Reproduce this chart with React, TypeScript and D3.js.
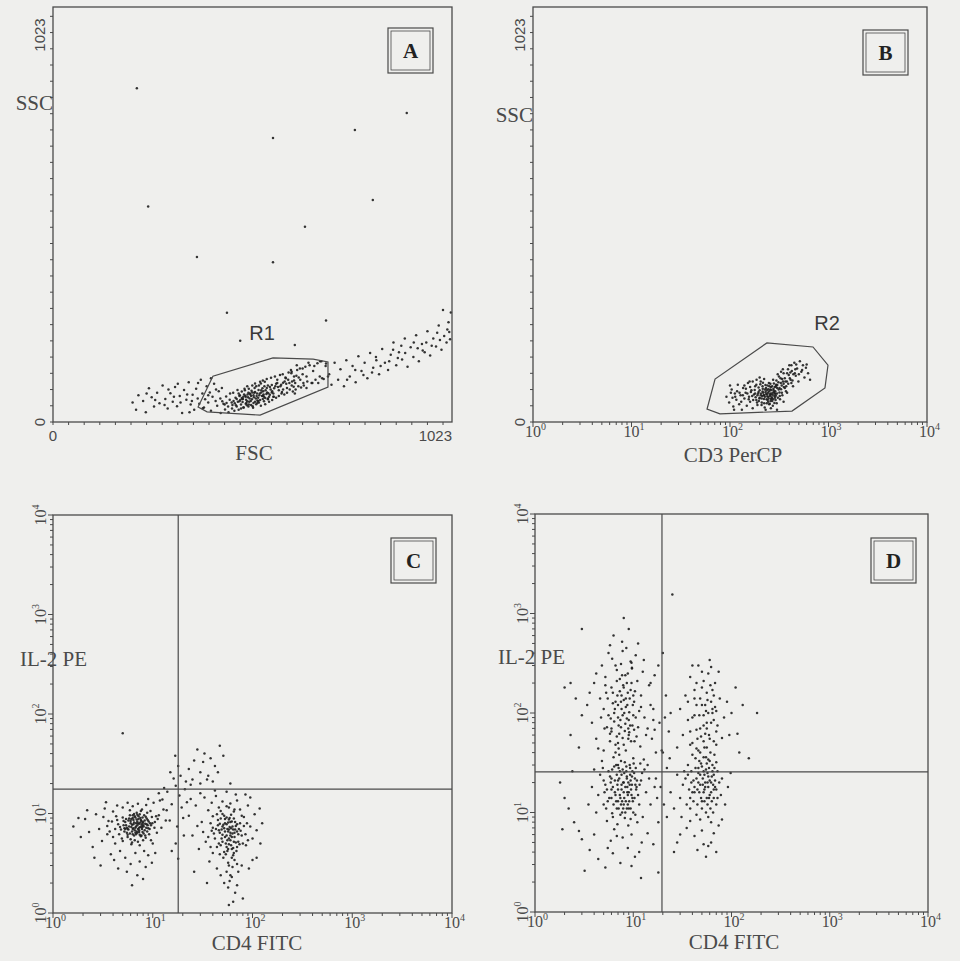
import React from 'react';
import * as d3 from 'd3';

const W = 960;
const H = 961;

// ---- panel A : FSC / SSC, linear channels 0..1023 ----
const aCore: [number, number][] = [
  [430,22],[434,51],[441,31],[444,63],[450,24],[454,70],[459,33],[462,72],[465,28],[469,41],[473,79],[476,30],[479,66],[482,33],[484,75],[489,36],[491,82],[494,45],[498,88],[501,38],[503,50],[508,42],[511,90],[513,35],[518,95],[521,44],[524,53],[528,48],[531,99],[533,40],[538,102],[541,51],[544,44],[548,106],[551,56],[554,50],[559,109],[562,54],[565,62],[569,112],[572,60],[575,104],[579,64],[582,116],[586,70],[589,118],[593,68],[596,110],[600,72],[604,122],[607,80],[612,124],[615,75],[618,112],[622,80],[626,128],[629,88],[633,132],[636,85],[640,118],[643,90],[647,136],[652,100],[658,140],[663,96],[667,126],[673,104],[678,145],[684,112],[688,150],[694,106],[699,138],
  [466,46],[471,38],[478,51],[484,59],[488,36],[494,62],[498,51],[502,43],[506,68],[510,56],[514,47],[518,74],[522,64],[526,52],[530,70],[534,78],[538,65],[542,88],[547,69],[551,58],[556,86],[561,73],[566,62],[570,88],[575,96],[579,78],[585,92],[590,80],[598,94],[603,104],[612,90],[618,102],[624,114],[634,104],[642,96],[650,112],
  [463,52],[497,41],[521,88],[478,64],[544,59],[509,77],[486,49],[533,95],[556,67],[471,57],[524,47],[502,82],[539,76],[490,68],[515,61],[548,84],[482,43],[527,79],[561,91],[495,55],[512,39],[536,64],[458,48],[505,70],[549,73],[492,78],[520,58],[567,83],[476,70],[531,54],[543,99],[500,61],[517,84],[554,62],[485,57],[511,73],[528,90],[562,76],[468,60],[496,47],[540,68],[507,52],[583,88],[523,70],[545,78],[488,62],[514,66],[537,83],[572,94],[501,72],[480,54],[526,60],[558,80],[493,65],[518,50],[534,73],[551,90],[504,58],[474,50],[590,97],[565,70],[541,62],[508,64],[529,66],[552,71],[487,57],[499,68],[516,72],[538,57],[577,86],[460,42],[449,38],[445,47],[453,55],[440,43],[600,84],[606,96],[613,100],[597,108],[587,74],[621,96],[630,110],[617,87],[611,120],[594,100],
  [610,128],[625,140],[640,132],[655,146],[670,138],[685,150],[700,144],[690,108],[665,96],[705,112],[620,70],[650,84],[680,96],
];
const aLeftWing: [number, number][] = [
  [204,48],[213,30],[219,66],[231,52],[238,24],[246,83],[253,61],[259,38],[267,72],[273,46],[281,90],[288,57],[294,33],[301,71],[307,50],[313,86],[318,39],[325,64],[331,22],[336,79],[342,55],[348,98],[353,43],[358,67],[362,30],[367,82],[371,58],[375,45],[379,104],[383,70],[387,36],[390,56],[394,88],[398,48],[402,73],[405,28],[409,62],[413,94],[417,52],[421,40],[425,76],[429,58],[433,84],[437,45],[344,68],[310,62],[286,42],[262,54],[372,96],[398,66],[356,52],[327,48],[384,34],[405,108],[418,80],[240,70],[296,80],[350,24],[320,94],
];
const aRightTail: [number, number][] = [
  [708,118],[714,92],[722,146],[731,104],[737,130],[746,88],[752,152],[761,112],[768,138],[776,98],[783,162],[791,126],[799,146],[806,108],[813,170],[821,134],[829,152],[836,118],[844,180],[851,146],[859,128],[866,166],[873,196],[880,140],[887,172],[895,154],[902,206],[909,136],[917,184],[924,160],[931,214],[938,150],[946,192],[953,172],[960,224],[967,164],[975,206],[982,186],[989,238],[996,178],[1003,212],[1009,196],[1014,246],[1018,204],[1020,270],[1011,228],[992,202],[971,188],[948,176],[925,196],[903,170],[884,158],[862,150],[840,138],[818,122],[796,116],[775,128],[754,104],[893,188],[957,196],[1016,222],[985,220],[935,182],[872,178],[828,160],
];
const aOutliers: [number, number][] = [
  [244,531],[215,823],[907,762],[774,720],[646,481],[369,407],[564,394],[1000,276],[446,269],[820,547],[564,700],[480,200],[700,250],[620,190],
];
const gateR1: [number, number][] = [[372,37],[410,113],[564,158],[667,155],[705,148],[705,86],[531,17],[395,25]];

// ---- panel B : CD3 PerCP (log) / SSC ----
const bCells: [number, number][] = [
  [92,62],[98,48],[104,80],[108,38],[112,70],[116,55],[120,92],[124,44],[128,66],[132,30],[136,84],[140,58],[144,72],[148,40],[152,96],[156,62],[160,50],[165,78],[170,34],[175,68],[180,88],[185,54],[190,42],[195,74],[200,60],[205,100],[210,48],[215,82],[220,66],[225,36],[230,74],[235,56],[240,90],[245,62],[250,44],[256,80],[262,68],[268,52],[274,104],[280,74],[286,60],[292,88],[298,46],[305,118],[312,80],[320,64],[328,96],[336,72],[344,130],[352,86],[360,108],[370,76],[380,120],[390,94],[400,140],[412,104],[424,126],[436,88],[450,146],[465,114],[480,132],[495,100],[512,150],[530,124],[550,140],[570,110],[590,134],[620,120],[650,104],
  [190,66],[200,78],[210,58],[218,72],[226,62],[232,84],[238,68],[244,50],[250,76],[255,64],[260,86],[265,58],[270,72],[276,82],[282,64],[288,76],[294,92],[300,70],[310,98],[318,84],[326,108],[335,90],[345,100],[180,70],[172,54],[196,52],[205,66],[214,88],[222,46],[236,78],[248,96],[258,70],[272,40],[290,54],[306,60],[340,66],[360,84],[378,100],[395,116],[420,96],[440,118],[460,130],[380,72],[420,140],[160,86],[150,70],[140,90],[130,50],[118,76],[106,60],[100,90],[110,30],[170,100],[200,110],[230,30],[260,34],[300,30],[350,50],
  [182,61],[214,75],[247,58],[268,88],[203,93],[236,46],[289,69],[226,80],[258,52],[195,85],[279,95],[212,64],[243,72],[266,61],[301,84],[188,48],[229,91],[254,68],[274,56],[318,73],[207,70],[239,63],[262,79],[296,102],[178,79],[221,57],[251,88],[284,71],[330,81],[199,58],[233,69],[257,94],[292,65],[314,112],[168,64],[216,97],[244,81],[271,67],[350,94],[185,92],[222,66],[261,57],[286,86],[338,106],[193,70],[241,54],[277,78],[302,91],[365,100],[155,56],[163,74],[209,42],[253,45],[282,47],[322,56],[372,88],[405,108],[431,102],[455,120],[388,130],[410,122],[350,120],[330,124],[470,142],[500,118],[540,128],[600,142],[125,72],[135,66],[145,82],[113,62],[102,72],[158,100],[186,104],[222,106],
];
const gateR2: [number, number][] = [[58.5,32],[70.5,106],[237,195],[696,185],[988,140],[921,84],[426,27],[79,20]];

// ---- panel C : CD4 FITC / IL-2 PE (log / log) ----
const cNeg: [number, number][] = [
  [5.2,7.1],[6.0,8.4],[6.8,6.2],[7.5,9.0],[8.1,7.4],[5.6,5.8],[6.4,7.8],[7.2,8.8],[8.8,6.6],[9.4,8.0],[4.8,6.9],[5.9,9.6],[6.6,5.4],[7.8,7.0],[8.5,9.3],[5.3,8.2],[6.2,6.6],[7.0,7.6],[7.6,5.9],[9.0,7.1],[4.5,7.8],[5.5,6.4],[6.3,9.0],[7.3,6.8],[8.3,8.5],[9.8,9.2],[4.9,5.6],[6.9,10.2],[8.0,5.4],[5.8,7.4],[6.5,8.1],[7.1,5.2],[7.9,8.0],[8.7,7.8],[5.0,9.1],[6.1,4.9],[7.4,9.8],[9.2,6.2],[5.7,6.9],[6.7,7.2],[7.7,8.4],[8.4,6.0],[6.0,5.5],[7.0,6.4],[8.9,8.6],[5.4,8.8],[6.3,7.0],[7.5,7.3],[8.2,9.6],[6.6,9.4],[9.6,7.6],[4.6,6.2],[5.1,7.6],[7.9,6.5],[6.8,8.0],[5.6,7.0],[7.3,7.9],
  [6.1,7.3],[7.4,6.1],[5.4,7.6],[8.0,8.2],[6.7,9.1],[7.1,7.0],[5.9,6.3],[8.6,7.2],[6.4,8.6],[7.7,7.7],[5.2,6.6],[6.9,6.6],[8.3,6.8],[7.2,9.4],[6.0,8.0],[7.6,8.6],[5.7,8.5],[8.9,7.6],[6.5,6.0],[7.0,8.3],[6.2,7.7],[7.9,9.1],[5.5,7.2],[8.4,7.9],[6.8,7.4],[7.3,6.5],[6.6,6.8],[5.1,8.4],[9.1,8.3],[6.3,6.2],[7.5,8.1],[5.8,8.9],[8.1,6.3],[7.0,9.7],[6.4,7.1],[7.8,7.3],[4.7,7.3],[6.9,8.7],[9.3,7.0],[5.3,7.0],[6.1,8.8],[7.3,7.2],[8.7,8.9],[6.7,6.4],[5.6,6.1],[8.0,7.6],[7.1,8.0],[6.3,9.6],[4.4,8.6],[9.9,8.0],[5.0,5.3],[7.7,6.0],[6.5,9.9],[8.5,5.7],[4.2,7.0],[3.9,8.3],[3.7,6.6],[10.4,7.2],[10.8,9.4],[4.3,9.4],[5.9,10.8],[7.6,10.6],[8.8,10.2],[6.2,5.1],[7.4,4.8],[4.0,5.8],[3.5,7.5],[9.6,5.4],[11.2,8.8],[3.2,9.2],
  [1.6,7.4],[1.9,5.8],[2.1,8.8],[2.3,6.5],[2.5,4.6],[2.7,9.8],[2.9,7.0],[3.1,5.3],[3.3,11.2],[3.5,6.2],[3.6,8.4],[3.8,3.9],[4.0,10.5],[4.2,5.0],[4.4,12.0],[4.1,3.4],[4.7,4.2],[5.0,11.5],[5.3,3.6],[5.6,12.8],[6.0,3.1],[6.3,11.8],[6.7,4.0],[7.1,12.5],[7.4,3.3],[7.8,11.0],[8.2,4.2],[8.6,12.2],[9.0,3.8],[9.5,10.6],[10.0,5.0],[10.5,8.2],[11.0,6.4],[11.5,9.6],[12.2,7.2],[12.8,11.0],[13.5,8.5],[10.2,12.8],[9.0,14.0],[11.8,13.5],[3.0,3.0],[4.5,2.8],[5.5,2.6],[7.0,2.4],[8.5,2.9],[3.4,13.0],[2.2,10.8],[1.8,9.0],[2.6,3.6],[9.8,3.2],[8.0,2.2],[6.2,1.9],[10.6,4.0],[5.0,64],
];
const cBridge: [number, number][] = [
  [12.5,13.8],[14.0,16.5],[15.5,12.4],[17.0,19.0],[18.5,15.2],[16.2,22.5],[13.8,10.8],[19.5,11.5],[21.0,17.5],[14.8,8.5],[17.6,7.4],[20.2,9.0],[15.0,26.0],[18.0,30.0],[16.8,38.0],[13.0,18.0],[11.5,16.0],[19.0,24.0],[22.0,13.0],[20.5,6.0],[17.0,5.0],[15.5,4.2],[18.0,3.5],[21.5,21.0],[23.0,28.0],[26.0,34.0],[24.0,19.5],
  [28,44],[33,40],[38,36],[42,30],[47,48],[30,26],[36,24],[51,38],[45,26],[25,22],[30,20],[35,22],[40,21],[32,33],[60,20],
];
const cPos: [number, number][] = [
  [40,7.2],[45,8.6],[50,6.1],[55,7.8],[60,5.4],[65,8.9],[70,6.6],[48,4.8],[52,9.5],[58,6.9],[62,4.4],[68,7.5],[42,5.6],[46,6.8],[54,5.0],[57,8.1],[63,6.3],[72,5.2],[75,8.0],[38,8.0],[44,9.8],[50,7.4],[56,4.2],[61,7.1],[66,5.8],[49,5.6],[53,6.6],[59,9.0],[64,3.8],[70,4.6],[47,7.9],[51,3.6],[55,6.0],[58,4.9],[62,8.3],[67,6.9],[73,7.0],[41,6.3],[78,6.0],[53,8.8],[60,6.4],[57,3.2],[65,4.0],
  [52,7.1],[58,5.6],[47,6.4],[63,7.4],[55,4.6],[60,8.2],[50,5.2],[66,6.4],[45,7.6],[57,6.6],[62,5.8],[53,8.0],[68,5.1],[48,8.9],[56,5.4],[61,4.8],[51,7.7],[64,6.9],[58,8.7],[54,3.9],[70,7.8],[46,5.0],[59,7.3],[65,5.2],[49,6.9],[55,9.1],[62,3.6],[67,8.2],[43,7.0],[57,4.4],[52,4.1],[60,6.0],[72,6.2],[50,9.9],[64,4.5],[56,7.0],[69,4.2],[47,3.9],[61,9.7],[53,5.8],[58,3.0],[66,3.4],[63,2.9],[55,2.6],[60,2.4],[70,3.1],[59,2.1],[74,4.9],[76,6.7],[80,5.0],[82,7.5],[39,6.7],[36,5.8],[38,4.6],[40,9.4],[44,4.6],[85,6.2],[90,5.4],[66,11.0],[58,11.5],[48,10.6],[78,9.5],
  [23,9.5],[25,6.0],[27,12.0],[29,4.4],[31,8.2],[33,14.5],[34,5.2],[36,10.8],[37,3.3],[39,12.8],[40,4.0],[43,15.0],[44,2.8],[46,11.5],[48,2.4],[50,13.2],[52,2.0],[55,11.8],[57,1.8],[60,12.6],[62,2.3],[65,10.5],[67,1.6],[70,13.5],[72,2.6],[75,11.0],[78,3.0],[82,9.2],[86,4.8],[90,12.0],[95,7.4],[100,5.6],[105,9.8],[110,6.8],[118,11.2],[125,8.0],[85,15.5],[92,2.8],[80,1.4],[64,1.3],[58,1.2],[70,1.9],[100,3.4],[30,16.0],[26,2.6],[24,14.0],[42,17.0],[55,16.5],[68,15.5],[95,14.5],[110,3.6],[120,5.0],[35,2.0],[28,7.5],[32,6.5],[88,8.0],
];

// ---- panel D : CD4 FITC / IL-2 PE (log / log), stimulated ----
const dNeg: [number, number][] = [
  [5.0,12],[6.2,18],[7.4,9.5],[8.6,22],[9.8,14],[5.6,26],[6.8,11],[8.0,16],[9.2,30],[10.5,19],[4.4,15],[5.4,8.2],[6.5,21],[7.7,13],[8.9,7.4],[10.2,25],[11.5,12],[4.8,33],[6.0,14],[7.1,28],[8.3,10],[9.5,17],[12.0,21],[5.2,19],[6.4,6.8],[7.6,24],[8.8,12],[10.0,35],[11.2,15],[4.2,10],[5.8,23],[7.0,17],[8.2,32],[9.4,8.6],[10.8,18],[13.0,27],[5.5,13],[6.7,30],[7.9,20],[9.0,11],[10.4,22],[12.5,9.0],[4.6,24],[6.1,9.8],[7.3,15],[8.5,26],[9.7,19],[11.8,31],[5.1,16],[6.3,36],[7.5,12],[8.7,18],[9.9,13],[13.5,16],[3.8,18],[6.9,7.6],[8.1,14],[9.3,24],[14.5,22],[3.5,12],[4.0,27],[11.0,8.0],[12.8,34],[7.2,38],[8.4,42],[6.6,40],[9.6,6.0],[7.8,5.6],[5.9,5.2],[10.6,28],[8.0,20],[7.0,13],[9.0,16],[6.0,17],[8.6,11],[7.6,19],[9.4,21],[6.8,24],[10.0,10],
  [6.6,15],[7.9,11],[8.7,16],[5.9,20],[9.6,15],[7.2,22],[8.4,13],[6.3,12],[10.9,21],[7.6,17],[9.2,19],[5.4,17],[8.1,25],[6.9,19],[9.8,26],[7.4,14],[8.9,20],[6.1,27],[10.3,14],[7.7,10],[8.5,29],[5.7,14],[9.4,11],[7.0,21],[6.5,16],[8.3,18],[9.1,13],[7.3,26],[6.0,22],[10.7,17],[8.0,12],[7.5,33],[5.0,21],[9.7,23],[6.7,13],[8.8,15],[11.6,19],[7.1,11],[8.6,23],[6.4,29],[9.3,28],[5.3,11],[10.1,31],[7.8,27],[4.9,28],[12.3,25],[6.2,9.0],[8.2,8.8],[10.5,9.5],[7.0,30],
  [3.0,5.4],[3.6,4.2],[4.4,3.4],[5.2,2.8],[6.2,3.9],[7.4,3.1],[8.8,4.4],[10.4,3.6],[12.2,5.0],[14.0,6.2],[2.5,8.0],[2.2,11],[2.8,6.5],[16,4.8],[3.2,2.6],[9.6,2.9],[4.0,6.0],[11.5,4.0],[5.5,4.4],[6.8,5.8],[2.0,14],[1.8,20],[2.4,26],[15,12],[16.5,18],[1.9,6.8],[18,8],
];
const dNegHigh: [number, number][] = [
  [4.2,55],[5.4,72],[6.6,48],[7.8,95],[9.0,60],[10.2,130],[5.0,110],[6.2,160],[7.4,85],[8.6,200],[9.8,75],[11.5,105],[4.6,140],[5.8,52],[7.0,120],[8.2,66],[9.4,170],[10.8,58],[13,90],[3.8,80],[5.2,230],[6.4,100],[7.6,150],[8.8,250],[10,95],[12,150],[4.8,300],[6.0,180],[7.2,62],[8.4,115],[9.6,320],[11,210],[14,70],[3.4,120],[5.6,400],[6.8,270],[8.0,180],[9.2,140],[10.6,380],[12.5,260],[4.0,200],[6.1,350],[7.3,220],[8.5,450],[9.7,280],[15,120],[4.4,44],[5.9,88],[7.1,44],[8.3,78],[9.5,52],[11.8,46],[13.5,60],[16,85],[6.6,130],[7.8,56],[9.1,102],[5.3,160],[7.5,310],[8.9,70],[10.4,165],[3.6,160],[4.2,250],[6.3,600],[7.7,520],[8.0,900],[9.0,700],[5.8,480],[11.2,500],[12.8,340],[14.5,190],[16.5,240],[3.0,95],[2.6,140],[2.3,60],[2.8,45],[2.0,180],[17,40],[6.0,70],[7.0,90],[8.0,48],[9.0,85],[6.8,58],[10.2,68],[5.0,42],[7.5,130],[8.8,160],[7.8,420],[9.7,285],[2.3,200],
  [6.0,65],[7.6,110],[8.9,55],[5.6,95],[9.9,120],[7.1,75],[8.4,140],[6.4,82],[10.6,90],[7.9,190],[5.1,70],[9.3,75],[6.8,210],[8.1,100],[7.3,165],[11.2,72],[6.2,125],[9.6,200],[5.5,140],[8.7,120],[7.0,50],[10.0,150],[6.6,300],[8.3,240],[4.7,90],[12.0,115],[7.5,72],[9.1,64],[5.8,62],[8.6,88],[6.9,150],[10.3,52],[7.7,240],[5.2,190],[9.4,330],[6.5,110],[8.0,135],
];
const dBridge: [number, number][] = [
  [14,30],[15.5,55],[17,22],[18.5,80],[20,40],[21.5,150],[16,110],[19,18],[22,28],[23,65],[24,100],[17.5,14],[20.5,12],[15,200],[18,300],[22,9],[19.5,42],[16.5,68],[21,90],[23.5,35],
];
const dPos: [number, number][] = [
  [30,14],[34,22],[38,11],[42,18],[46,28],[50,13],[54,20],[58,34],[62,16],[66,24],[70,12],[36,30],[40,16],[44,9.5],[48,24],[52,36],[56,14],[60,21],[64,30],[68,18],[72,26],[32,19],[35,12],[39,26],[43,35],[47,16],[51,22],[55,10],[59,28],[63,13],[67,38],[75,20],[33,26],[37,17],[41,21],[45,12],[49,31],[53,17],[57,25],[61,40],[65,10],[78,15],[28,24],[31,9.0],[44,44],[56,45],[48,8.5],[62,8.0],[70,32],[80,22],[52,26],[46,20],[58,18],[40,38],[66,14],
  [44,22],[52,16],[58,23],[48,19],[62,20],[55,27],[41,13],[66,17],[50,29],[57,12],[46,25],[60,15],[54,18],[64,26],[49,14],[43,28],[68,21],[56,31],[39,20],[61,11],[51,19],[47,33],[59,14],[53,24],[65,19],[42,16],[70,17],[57,20],[45,17],[63,23],[38,14],[50,11],[55,36],[67,28],[48,40],[60,33],[72,14],[36,24],[53,13],[58,9.0],
  [35,7.0],[42,5.8],[50,6.6],[58,4.6],[66,6.2],[74,7.4],[45,4.2],[55,3.6],[30,6.0],[62,5.0],[80,8.5],[86,12],[92,18],[26,11],[24,16],[38,8.2],[52,4.8],[70,4.0],[28,5.0],
  [32,60],[36,85],[40,50],[44,120],[48,70],[52,95],[56,160],[60,55],[64,110],[68,200],[72,75],[76,140],[34,150],[38,230],[42,95],[46,300],[50,180],[54,62],[58,250],[62,130],[66,85],[70,105],[30,110],[44,68],[48,140],[52,210],[56,80],[60,340],[64,170],[84,90],[90,130],[95,60],[28,45],[38,48],[52,52],[70,48],[80,56],[42,170],[58,100],[46,42],[66,52],[36,130],[100,100],[74,260],[50,260],[40,300],[62,290],[54,120],
  [45,55],[56,70],[50,120],[62,80],[40,90],[66,150],[53,45],[59,60],[47,95],[70,65],[42,140],[61,190],[55,105],[49,58],[64,100],[38,65],[57,135],[68,115],[44,200],[52,75],
  [25,1550],[182,100],[115,62],[130,120],[20,400],[150,35],[3.0,700],[26,4.0],[12,2.2],[18,2.5],[120,40],[110,180],[98,25],
];

// quadrant markers (CD4 FITC, IL-2 PE)
const quadX = [18, 19.6];
const quadY = [17.6, 25.6];

const decades = [1, 10, 100, 1000, 10000];
const linTickStep = 40;

const ink = '#4a4a4a';
const dotInk = '#1e1e1e';
const serif = '"Liberation Serif", "Times New Roman", serif';
const sans = '"Liberation Sans", Arial, sans-serif';

type Box = { x0: number; x1: number; y0: number; y1: number };
type Title = { text: string; x: number; y: number; anchor?: string };

function Panel(props: {
  box: Box;
  xLog: boolean;
  yLog: boolean;
  sets: [number, number][][];
  letter: string;
  letterPos: [number, number];
  xTitle: Title;
  yTitle: Title;
  tickLabelDy: number;
  gate?: [number, number][];
  gateLabel?: Title;
  quad?: [number, number];
}) {
  const { box, xLog, yLog, tickLabelDy } = props;
  const x: any = xLog
    ? d3.scaleLog().domain([1, 1e4]).range([box.x0, box.x1])
    : d3.scaleLinear().domain([0, 1023]).range([box.x0, box.x1]);
  const y: any = yLog
    ? d3.scaleLog().domain([1, 1e4]).range([box.y1, box.y0])
    : d3.scaleLinear().domain([0, 1023]).range([box.y1, box.y0]);

  const xTicks: number[] = xLog ? x.ticks() : d3.range(0, 1024, linTickStep);
  const yTicks: number[] = yLog ? y.ticks() : d3.range(0, 1024, linTickStep);
  const isDecade = (v: number) => decades.includes(v);

  const gatePath = props.gate
    ? d3.line<[number, number]>().x((d) => x(d[0])).y((d) => y(d[1])).curve(d3.curveLinearClosed)(props.gate)
    : null;

  const [lx, ly] = props.letterPos;

  return (
    <g>
      {/* events */}
      {props.sets.map((set, si) => (
        <g key={si} fill={dotInk}>
          {set.map((d, i) => (
            <circle key={i} cx={x(d[0])} cy={y(d[1])} r={1.25} opacity={0.9} />
          ))}
        </g>
      ))}

      {/* frame */}
      <rect x={box.x0} y={box.y0} width={box.x1 - box.x0} height={box.y1 - box.y0} fill="none" stroke={ink} strokeWidth={1.3} />

      {/* ticks */}
      {xTicks.map((v, i) => (
        <line key={'xt' + i} x1={x(v)} x2={x(v)} y1={box.y1} y2={box.y1 + (xLog && isDecade(v) ? 5 : 3)} stroke={ink} strokeWidth={1} />
      ))}
      {yTicks.map((v, i) => (
        <line key={'yt' + i} x1={box.x0} x2={box.x0 - (yLog && isDecade(v) ? 5 : 3)} y1={y(v)} y2={y(v)} stroke={ink} strokeWidth={1} />
      ))}

      {/* x tick labels */}
      {xLog
        ? decades.map((v, i) => (
            <text key={'xl' + i} x={x(v) - 8} y={box.y1 + tickLabelDy} fontFamily={serif} fontSize={16} fill={ink}>
              10<tspan fontSize={10} dy={-7}>{i}</tspan>
            </text>
          ))
        : [
            <text key="x0" x={x(0)} y={box.y1 + tickLabelDy} textAnchor="middle" fontFamily={sans} fontSize={15} fill={ink}>0</text>,
            <text key="x1" x={x(1023)} y={box.y1 + tickLabelDy} textAnchor="end" fontFamily={sans} fontSize={15} fill={ink}>1023</text>,
          ]}

      {/* y tick labels (rotated) */}
      {yLog
        ? decades.map((v, i) => (
            <text key={'yl' + i} transform={`translate(${box.x0 - 7},${y(v)}) rotate(-90)`} textAnchor="middle" fontFamily={serif} fontSize={16} fill={ink}>
              10<tspan fontSize={10} dy={-7}>{i}</tspan>
            </text>
          ))
        : [
            <text key="y0" transform={`translate(${box.x0 - 8},${y(0)}) rotate(-90)`} textAnchor="middle" fontFamily={sans} fontSize={15} fill={ink}>0</text>,
            <text key="y1" transform={`translate(${box.x0 - 8},${box.y0 + 28}) rotate(-90)`} textAnchor="middle" fontFamily={sans} fontSize={15} fill={ink}>1023</text>,
          ]}

      {/* quadrant lines */}
      {props.quad && (
        <g stroke={ink} strokeWidth={1.2}>
          <line x1={x(props.quad[0])} x2={x(props.quad[0])} y1={box.y0} y2={box.y1} />
          <line x1={box.x0} x2={box.x1} y1={y(props.quad[1])} y2={y(props.quad[1])} />
        </g>
      )}

      {/* gate */}
      {gatePath && <path d={gatePath} fill="none" stroke={ink} strokeWidth={1.2} />}
      {props.gateLabel && (
        <text x={props.gateLabel.x} y={props.gateLabel.y} textAnchor="middle" fontFamily={sans} fontSize={20} fill="#3a3a3a">
          {props.gateLabel.text}
        </text>
      )}

      {/* titles */}
      <text x={props.xTitle.x} y={props.xTitle.y} textAnchor="middle" fontFamily={serif} fontSize={21} fill={ink}>
        {props.xTitle.text}
      </text>
      <text x={props.yTitle.x} y={props.yTitle.y} textAnchor={props.yTitle.anchor || 'end'} fontFamily={serif} fontSize={21} fill={ink}>
        {props.yTitle.text}
      </text>

      {/* panel letter */}
      <rect x={lx} y={ly} width={45} height={45} fill="none" stroke={ink} strokeWidth={1.2} />
      <rect x={lx + 3} y={ly + 3} width={39} height={39} fill="none" stroke={ink} strokeWidth={0.8} />
      <text x={lx + 22.5} y={ly + 30} textAnchor="middle" fontFamily={serif} fontWeight="bold" fontSize={21} fill="#222">
        {props.letter}
      </text>
    </g>
  );
}

export default function App() {
  return (
    <svg width={W} height={H} style={{ position: 'absolute', left: 0, top: 0, background: '#efefed' }}>
      <Panel
        box={{ x0: 53, x1: 452, y0: 7, y1: 422 }}
        xLog={false}
        yLog={false}
        sets={[aCore, aLeftWing, aRightTail, aOutliers]}
        letter="A"
        letterPos={[388, 28]}
        xTitle={{ text: 'FSC', x: 254, y: 460 }}
        yTitle={{ text: 'SSC', x: 53, y: 110 }}
        tickLabelDy={19}
        gate={gateR1}
        gateLabel={{ text: 'R1', x: 262, y: 340 }}
      />
      <Panel
        box={{ x0: 533, x1: 927, y0: 7, y1: 422 }}
        xLog={true}
        yLog={false}
        sets={[bCells]}
        letter="B"
        letterPos={[863, 30]}
        xTitle={{ text: 'CD3 PerCP', x: 733, y: 462 }}
        yTitle={{ text: 'SSC', x: 533, y: 122 }}
        tickLabelDy={15}
        gate={gateR2}
        gateLabel={{ text: 'R2', x: 827, y: 330 }}
      />
      <Panel
        box={{ x0: 53, x1: 452, y0: 515, y1: 913 }}
        xLog={true}
        yLog={true}
        sets={[cNeg, cBridge, cPos]}
        letter="C"
        letterPos={[391, 538]}
        xTitle={{ text: 'CD4 FITC', x: 257, y: 950 }}
        yTitle={{ text: 'IL-2 PE', x: 87, y: 666 }}
        tickLabelDy={15}
        quad={[quadX[0], quadY[0]]}
      />
      <Panel
        box={{ x0: 535, x1: 928, y0: 514, y1: 912 }}
        xLog={true}
        yLog={true}
        sets={[dNeg, dNegHigh, dBridge, dPos]}
        letter="D"
        letterPos={[871, 538]}
        xTitle={{ text: 'CD4 FITC', x: 734, y: 949 }}
        yTitle={{ text: 'IL-2 PE', x: 565, y: 664 }}
        tickLabelDy={15}
        quad={[quadX[1], quadY[1]]}
      />
    </svg>
  );
}
